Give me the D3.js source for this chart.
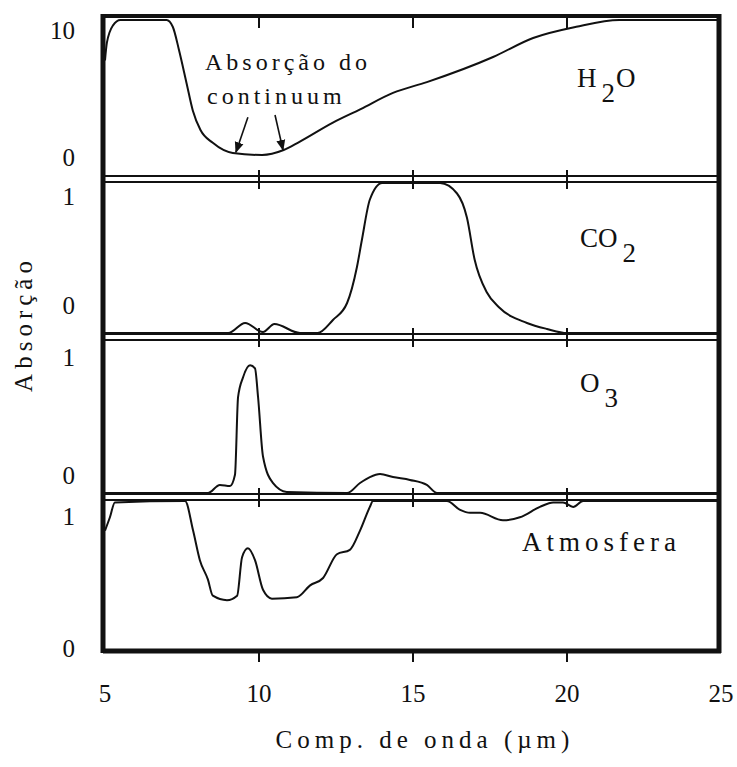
<!DOCTYPE html>
<html>
<head>
<meta charset="UTF-8">
<script src="https://cdn.jsdelivr.net/npm/d3@7"></script>
<style>
  body { margin: 0; background: #fff; }
</style>
</head>
<body>
<div id="chart"></div>
<script>
// wavelength ticks
var xTicks = [5, 10, 15, 20, 25];

// H2O (scale 0..10)
var h2oX = [5.0, 5.06, 5.26, 5.5, 7.0, 7.2, 7.4, 7.65, 7.85, 8.1, 8.5, 9.15, 10.1, 10.8, 11.3, 12.4, 13.3, 14.35, 15.45, 17.6, 18.9, 20.3, 21.7, 25];
var h2oY = [7.0, 8.3, 9.6, 10, 10, 9.5, 7.8, 5.3, 3.3, 1.85, 0.9, 0.15, 0, 0.37, 0.96, 2.4, 3.4, 4.6, 5.4, 7.26, 8.67, 9.5, 10, 10];

// CO2 (0..1)
var co2X = [5, 9.0, 9.55, 10.13, 10.5, 11.33, 11.9, 12.4, 12.86, 13.18, 13.34, 13.6, 14.0, 15.88, 16.43, 16.75, 17.0, 17.4, 17.8, 18.7, 19.35, 20.0, 25];
var co2Y = [0, 0, 0.067, 0.007, 0.06, 0, 0, 0.087, 0.2, 0.44, 0.62, 0.89, 1.0, 1.0, 0.93, 0.77, 0.49, 0.27, 0.17, 0.067, 0.027, 0, 0];

// O3 (0..1)
var o3X = [5, 8.34, 8.73, 9.06, 9.22, 9.32, 9.48, 9.71, 9.87, 9.97, 10.13, 10.45, 10.9, 12.86, 13.28, 13.6, 13.93, 14.35, 14.9, 15.45, 15.78, 25];
var o3Y = [0, 0, 0.053, 0.046, 0.12, 0.63, 0.76, 0.84, 0.82, 0.63, 0.24, 0.066, 0.007, 0, 0.066, 0.105, 0.125, 0.105, 0.086, 0.053, 0, 0];

// atmosfera (0..1)
var atmX = [5.0, 5.16, 5.32, 7.6, 7.86, 8.08, 8.34, 8.5, 8.96, 9.29, 9.45, 9.64, 9.87, 10.13, 10.42, 11.23, 11.66, 12.08, 12.53, 12.95, 13.28, 13.6, 13.7, 16.1, 16.53, 16.85, 17.18, 17.92, 18.47, 19.12, 19.55, 19.87, 20.2, 20.52, 25];
var atmY = [0.8, 0.89, 0.99, 1.0, 0.8, 0.6, 0.47, 0.36, 0.33, 0.36, 0.62, 0.68, 0.6, 0.4, 0.34, 0.35, 0.43, 0.48, 0.64, 0.67, 0.8, 0.96, 1.0, 1.0, 0.94, 0.92, 0.92, 0.87, 0.89, 0.96, 0.99, 0.99, 0.96, 1.0, 1.0];

var panelNames = ["H", "CO", "O", "Atmosfera"];
var panelSubs = ["2", "2", "3", ""];
var panelTails = ["O", "", "", ""];
var tickLabels = [["10", "0"], ["1", "0"], ["1", "0"], ["1", "0"]];
var yMaxes = [10, 1, 1, 1];

var W = 737, H = 767;
var svg = d3.select("#chart").append("svg").attr("width", W).attr("height", H)
  .attr("font-family", "'Liberation Serif', 'Times New Roman', 'DejaVu Serif', serif")
  .attr("fill", "#111");

var x = d3.scaleLinear().domain([5, 25]).range([105, 721]);

// layout of the four stacked strips
var panels = [
  {top: 20, bot: 155, sep: null, lab: [10, 2], nx: 577, ny: 87},
  {top: 183, bot: 333, sep: [176, 182], lab: [13, -28], nx: 580, ny: 247},
  {top: 341, bot: 493, sep: [334, 340], lab: [16, -18], nx: 580, ny: 392},
  {top: 501, bot: 649, sep: [494, 500], lab: [15, -1], nx: 522, ny: 551}
];
var series = [[h2oX, h2oY], [co2X, co2Y], [o3X, o3Y], [atmX, atmY]];

var left = 103, right = 719, frameTop = 16, frameBot = 651;

panels.forEach(function(p, i){
  var y = d3.scaleLinear().domain([0, yMaxes[i]]).range([p.bot, p.top]);
  var pts = d3.zip(series[i][0], series[i][1]);
  var line = d3.line().x(function(d){ return x(d[0]); }).y(function(d){ return y(d[1]); }).curve(d3.curveMonotoneX);
  svg.append("path").datum(pts).attr("d", line)
    .attr("fill", "none").attr("stroke", "#111").attr("stroke-width", 2);

  // y labels
  svg.append("text").attr("x", 75).attr("y", y(yMaxes[i]) + p.lab[0]).attr("dy", "0.35em")
    .attr("text-anchor", "end").style("font-size", "25px").text(tickLabels[i][0]);
  svg.append("text").attr("x", 75).attr("y", y(0) + p.lab[1]).attr("dy", "0.35em")
    .attr("text-anchor", "end").style("font-size", "25px").text(tickLabels[i][1]);

  // double separator lines with tick marks
  if (p.sep){
    p.sep.forEach(function(sy){
      svg.append("line").attr("x1", left).attr("x2", right).attr("y1", sy).attr("y2", sy)
        .attr("stroke", "#111").attr("stroke-width", 2);
    });
    svg.selectAll(null).data([10, 15, 20]).enter().append("line")
      .attr("x1", function(d){ return x(d); }).attr("x2", function(d){ return x(d); })
      .attr("y1", p.sep[0] - 6).attr("y2", p.sep[1] + 7)
      .attr("stroke", "#111").attr("stroke-width", 2);
  }

  // panel name
  var t = svg.append("text").attr("x", p.nx).attr("y", p.ny).style("font-size", "27px");
  if (panelSubs[i]){
    t.append("tspan").text(panelNames[i]);
    t.append("tspan").attr("dx", 5).attr("dy", 15).text(panelSubs[i]);
    if (panelTails[i]) t.append("tspan").attr("dx", 1).attr("dy", -15).text(panelTails[i]);
  } else {
    t.style("letter-spacing", "5px").text(panelNames[i]);
  }
});

// outer frame
svg.append("line").attr("x1", left).attr("x2", right).attr("y1", frameTop).attr("y2", frameTop).attr("stroke", "#111").attr("stroke-width", 4);
svg.append("line").attr("x1", left).attr("x2", right + 2).attr("y1", frameBot).attr("y2", frameBot).attr("stroke", "#111").attr("stroke-width", 5);
svg.append("line").attr("x1", left).attr("x2", left).attr("y1", frameTop - 2).attr("y2", frameBot + 2).attr("stroke", "#111").attr("stroke-width", 5);
svg.append("line").attr("x1", right).attr("x2", right).attr("y1", frameTop - 2).attr("y2", frameBot + 2).attr("stroke", "#111").attr("stroke-width", 5);

// ticks on top and bottom of the frame
svg.selectAll(null).data([10, 15, 20]).enter().append("line")
  .attr("x1", function(d){ return x(d); }).attr("x2", function(d){ return x(d); })
  .attr("y1", frameTop).attr("y2", frameTop + 12).attr("stroke", "#111").attr("stroke-width", 2);
svg.selectAll(null).data([10, 15, 20]).enter().append("line")
  .attr("x1", function(d){ return x(d); }).attr("x2", function(d){ return x(d); })
  .attr("y1", frameBot).attr("y2", frameBot + 11).attr("stroke", "#111").attr("stroke-width", 2);

// x tick labels
svg.selectAll(null).data(xTicks).enter().append("text")
  .attr("x", function(d){ return x(d); }).attr("y", 702)
  .attr("text-anchor", "middle").style("font-size", "25px").text(function(d){ return d; });

// axis titles
svg.append("text").attr("x", 425).attr("y", 748).attr("text-anchor", "middle")
  .style("font-size", "25px").style("letter-spacing", "5px").text("Comp. de onda (\u00b5m)");
svg.append("text").attr("transform", "translate(32,324) rotate(-90)").attr("text-anchor", "middle")
  .style("font-size", "25px").style("letter-spacing", "5px").text("Absorção");

// continuum annotation
var yH = d3.scaleLinear().domain([0, 10]).range([panels[0].bot, panels[0].top]);
svg.append("text").attr("x", 205).attr("y", 70).style("font-size", "24px").style("letter-spacing", "4px").text("Absorção do");
svg.append("text").attr("x", 207).attr("y", 104).style("font-size", "24px").style("letter-spacing", "4px").text("continuum");

svg.append("defs").append("marker").attr("id", "ah").attr("viewBox", "0 0 10 10")
  .attr("refX", 9).attr("refY", 5).attr("markerWidth", 7).attr("markerHeight", 7).attr("orient", "auto")
  .append("path").attr("d", "M0,1 L10,5 L0,9 Z").attr("fill", "#111");
var arrows = [[9.64, 2.8, 9.25, 0.2], [10.52, 2.96, 10.78, 0.37]];
svg.selectAll(null).data(arrows).enter().append("line")
  .attr("x1", function(d){ return x(d[0]); }).attr("y1", function(d){ return yH(d[1]); })
  .attr("x2", function(d){ return x(d[2]); }).attr("y2", function(d){ return yH(d[3]); })
  .attr("stroke", "#111").attr("stroke-width", 1.6).attr("marker-end", "url(#ah)");
</script>
</body>
</html>
